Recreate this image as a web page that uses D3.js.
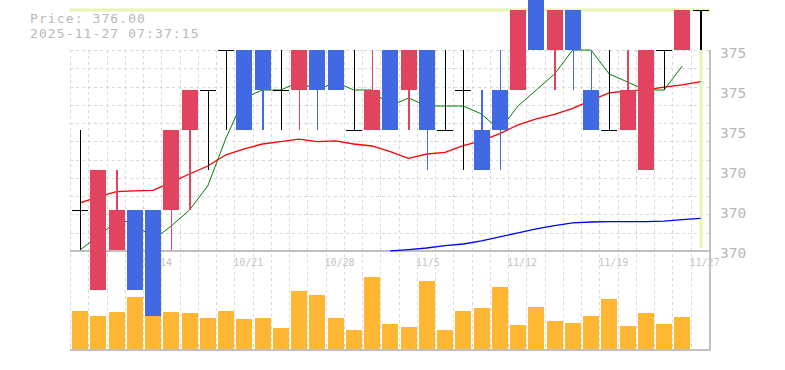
<!DOCTYPE html>
<html>
<head>
<meta charset="utf-8">
<script src="https://cdn.jsdelivr.net/npm/d3@7"></script>
<style>
  html, body { margin: 0; padding: 0; background: #ffffff; }
  svg { display: block; }
  text { font-family: "DejaVu Sans Mono", "Liberation Mono", monospace; }
</style>
</head>
<body>
<svg id="chart" width="785" height="370"></svg>
<script>
// ---------- data ----------
const dates = ["10/7","10/8","10/9","10/10","10/14","10/15","10/16","10/17","10/20","10/21",
  "10/22","10/23","10/24","10/27","10/28","10/29","10/30","10/31","11/4","11/5",
  "11/6","11/7","11/10","11/11","11/12","11/13","11/14","11/17","11/18","11/19",
  "11/20","11/21","11/25","11/26","11/27"];
const labeledDates = ["10/14","10/21","10/28","11/5","11/12","11/19","11/27"];

const openP  = [371,369,370,371,371,371,373,374,375,375,375,374,374,375,375,373,373,375,374,375,
                373,374,373,374,374,377,375,376,374,373,373,372,375,375,376];
const highP  = [373,372,372,371,371,373,374,374,375,375,375,375,375,375,375,375,375,375,375,375,
                375,375,374,375,376,377,376,376,375,375,375,375,375,376,376];
const lowP   = [370,369,370,369,368,370,371,372,373,373,373,373,373,373,374,373,373,373,373,372,
                373,372,372,372,374,375,374,374,373,373,373,372,374,375,375];
const closeP = [371,372,371,369,368,373,374,374,375,373,374,374,375,374,374,373,374,373,375,373,
                373,374,372,373,376,375,376,375,373,373,374,375,375,376,376];

// volume (thousand shares)
const volume = [38,33,37,52,33,37,36,31,38,30,31,21,58,54,31,19,72,25,22,68,
                19,38,41,62,24,42,28,26,33,50,23,36,25,32,0];

// moving averages (null = not visible)
const ma5  = [370.0,370.35,370.71,370.71,370.25,370.6,371.0,371.6,372.8,373.8,
              374.0,374.0,374.2,374.0,374.2,374.0,374.0,373.6,373.8,373.6,
              373.6,373.6,373.4,373.0,373.6,374.0,374.4,375.0,375.0,374.4,
              374.2,374.0,374.0,374.6,null];
const ma25 = [371.18,371.33,371.46,371.48,371.49,371.69,371.90,372.10,372.38,372.53,
              372.65,372.71,372.77,372.71,372.73,372.65,372.60,372.46,372.29,372.40,
              372.44,372.61,372.73,372.91,373.13,373.28,373.39,373.54,373.74,373.93,
              373.98,374.00,374.07,374.13,374.21];
const ma75 = [null,null,null,null,null,null,null,null,null,null,
              null,null,null,null,null,null,null,369.98,370.01,370.05,
              370.11,370.15,370.23,370.33,370.43,370.53,370.61,370.68,370.70,370.71,
              370.71,370.71,370.72,370.76,370.79];

const priceTicks = [375,374,373,372,371,370];
const priceTickLabels = ["375","375","375","370","370","370"];
const currentPrice = 376.00;
const stampText = "2025-11-27 07:37:15";

// ---------- styles ----------
const C_UP = "#e2445f", C_DOWN = "#4169e1", C_DOJI = "#000000";
const C_VOL = "#ffb733", C_GRID = "#d9d9d9", C_AXIS = "#c0c0c0";
const C_TEXT = "#b8b8b8", C_CROSS = "#e6f5b2";

// ---------- scales ----------
const svg = d3.select("#chart");
const step = 18.25;
const x = d3.scaleBand().domain(dates).range([70, 70 + step * dates.length]).padding(0);
const cx = d => x(d) + 10;
const y = d3.scaleLinear().domain([370, 375]).range([250, 50]);
const yVol = d3.scaleLinear().domain([0, 96]).range([349, 253]);

// ---------- grid ----------
const grid = svg.append("g").attr("stroke", C_GRID).attr("stroke-dasharray", "3,3")
  .attr("shape-rendering", "crispEdges");
grid.selectAll("line.v").data(dates).join("line").attr("class","v")
  .attr("x1", d => Math.round(x(d)) + 0.5).attr("x2", d => Math.round(x(d)) + 0.5)
  .attr("y1", 50).attr("y2", 349);
grid.selectAll("line.h").data(d3.range(11)).join("line").attr("class","h")
  .attr("x1", 70).attr("x2", 710)
  .attr("y1", k => Math.round(50 + k * step) + 0.5).attr("y2", k => Math.round(50 + k * step) + 0.5);

// solid frame lines
const frame = svg.append("g").attr("stroke", C_AXIS).attr("stroke-width", 2)
  .attr("shape-rendering", "crispEdges");
frame.append("line").attr("x1", 70).attr("x2", 711).attr("y1", 250.5).attr("y2", 250.5);
frame.append("line").attr("x1", 70).attr("x2", 711).attr("y1", 349.5).attr("y2", 349.5);
frame.append("line").attr("x1", 710).attr("x2", 710).attr("y1", 50).attr("y2", 350);

// ---------- x labels ----------
svg.append("g").selectAll("text").data(labeledDates).join("text")
  .attr("x", d => x(d) - 1).attr("y", 266)
  .attr("font-size", "10px").attr("fill", "#c4c4c4").attr("text-anchor", "start")
  .text(d => d);

// ---------- y axis ----------
const yAxis = d3.axisRight(y).tickValues(priceTicks)
  .tickFormat((d, i) => priceTickLabels[i]).tickSize(0).tickPadding(10);
const gy = svg.append("g").attr("transform", "translate(710,0)").call(yAxis);
gy.select(".domain").remove();
gy.selectAll("text").attr("font-size", "14.5px").attr("fill", C_TEXT)
  .attr("font-family", "'DejaVu Sans Mono', monospace").attr("dy", "0.5em");

// ---------- header text ----------
svg.append("text").attr("x", 30).attr("y", 22.5).attr("font-size", "13px")
  .attr("letter-spacing", "1.1px").attr("fill", C_TEXT)
  .text("Price: " + currentPrice.toFixed(2));
svg.append("text").attr("x", 30).attr("y", 37.5).attr("font-size", "13px")
  .attr("letter-spacing", "1.1px").attr("fill", C_TEXT)
  .text(stampText);

// ---------- current price crosshair ----------
const lastDate = dates[dates.length - 1];
svg.append("line").attr("x1", 70).attr("x2", 710)
  .attr("y1", y(currentPrice)).attr("y2", y(currentPrice))
  .attr("stroke", C_CROSS).attr("stroke-width", 3);
svg.append("line").attr("x1", cx(lastDate) + 0.5).attr("x2", cx(lastDate) + 0.5)
  .attr("y1", 50).attr("y2", 248)
  .attr("stroke", C_CROSS).attr("stroke-width", 3);

// ---------- moving averages ----------
function maLine(vals, color, w) {
  const line = d3.line()
    .defined((v) => v != null)
    .x((v, i) => cx(dates[i]))
    .y(v => y(v));
  svg.append("path").datum(vals).attr("d", line)
    .attr("fill", "none").attr("stroke", color).attr("stroke-width", w);
}
maLine(ma25, "#ff0000", 1.3);
maLine(ma5, "#008000", 1);
maLine(ma75, "#0000ff", 1.3);

// ---------- candles ----------
const idx = d3.range(dates.length);
const colorOf = i => closeP[i] > openP[i] ? C_UP : (closeP[i] < openP[i] ? C_DOWN : C_DOJI);
const candles = svg.append("g").attr("shape-rendering", "crispEdges");
candles.selectAll("line.wick").data(idx).join("line").attr("class","wick")
  .attr("x1", i => cx(dates[i]) + 0.5).attr("x2", i => cx(dates[i]) + 0.5)
  .attr("y1", i => y(highP[i])).attr("y2", i => y(lowP[i]))
  .attr("stroke", i => colorOf(i)).attr("stroke-width", 1.2);
candles.selectAll("rect.body").data(idx.filter(i => openP[i] !== closeP[i])).join("rect")
  .attr("class","body")
  .attr("x", i => x(dates[i]) + 2).attr("width", 16)
  .attr("y", i => y(Math.max(openP[i], closeP[i])))
  .attr("height", i => Math.abs(y(openP[i]) - y(closeP[i])))
  .attr("fill", i => colorOf(i));
candles.selectAll("line.doji").data(idx.filter(i => openP[i] === closeP[i])).join("line")
  .attr("class","doji")
  .attr("x1", i => x(dates[i]) + 2).attr("x2", i => x(dates[i]) + 18)
  .attr("y1", i => y(openP[i]) + 0.5).attr("y2", i => y(openP[i]) + 0.5)
  .attr("stroke", C_DOJI).attr("stroke-width", 1.5);

// ---------- volume ----------
svg.append("g").attr("shape-rendering", "crispEdges")
  .selectAll("rect").data(idx.filter(i => volume[i] > 0)).join("rect")
  .attr("x", i => x(dates[i]) + 2).attr("width", 16)
  .attr("y", i => yVol(volume[i])).attr("height", i => yVol(0) - yVol(volume[i]))
  .attr("fill", C_VOL);
</script>
</body>
</html>
